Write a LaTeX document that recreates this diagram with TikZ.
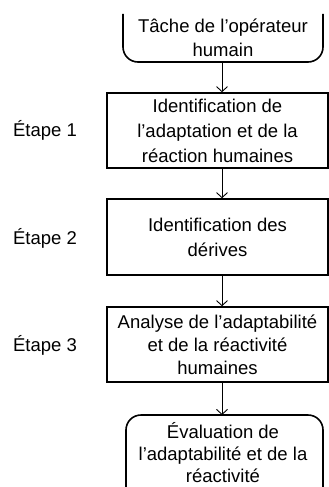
\documentclass[tikz,border=0pt]{standalone}
\usepackage{fontspec}
\setmainfont{Liberation Sans}
\usetikzlibrary{arrows.meta}
\tikzset{
  box/.style={draw, line width=1.6pt, minimum width=221pt, minimum height=75pt, align=center, inner sep=0pt},
  txt/.style={align=center, inner sep=0pt, font=\fontsize{18.5}{24}\selectfont},
  lbl/.style={inner sep=0pt, font=\fontsize{18.5}{24}\selectfont},
  conn/.style={line width=0.9pt, -{Straight Barb[length=5pt,width=11pt,line width=0.9pt]}},
  frame/.style={line width=1.6pt, rounded corners=15pt}
}
\begin{document}
\begin{tikzpicture}[x=1pt,y=-1pt]
\useasboundingbox (0,0) rectangle (329,487);
% top open box
\draw[frame] (123,14) -- (123,62) -- (323,62) -- (323,14);
\node[txt] (top) at (223,38) {Tâche de l'opérateur\\humain};
\coordinate (topb) at (222,62);
% rect boxes
\node[box, font=\fontsize{18.5}{25}\selectfont] (b1) at (217.5,130.5) {Identification de\\l'adaptation et de la\\réaction humaines};
\node[box, font=\fontsize{18.5}{25}\selectfont, minimum height=76pt] (b2) at (217.5,237) {Identification des\\dérives};
\node[box, font=\fontsize{18.5}{23}\selectfont] (b3) at (217.5,344.5) {Analyse de l'adaptabilité\\et de la réactivité\\humaines};
% bottom open box
\draw[frame] (126,495) -- (126,415) -- (323,415) -- (323,495);
\node[txt, font=\fontsize{18.5}{22}\selectfont] (bot) at (223,453) {Évaluation de\\l'adaptabilité et de la\\réactivité};
\coordinate (bott) at (222,415);
% labels
\node[lbl] (e1) at (45,130) {Étape 1};
\node[lbl] (e2) at (45,238) {Étape 2};
\node[lbl] (e3) at (45,345) {Étape 3};
% connectors
\draw[conn] (topb) -- (topb |- b1.north);
\draw[conn] (topb |- b1.south) -- (topb |- b2.north);
\draw[conn] (topb |- b2.south) -- (topb |- b3.north);
\draw[conn] (topb |- b3.south) -- (bott);
\end{tikzpicture}
\end{document}
